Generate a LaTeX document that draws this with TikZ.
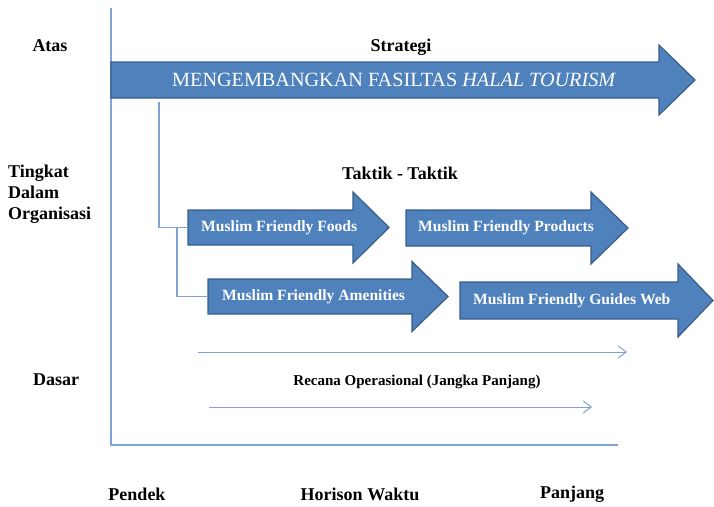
\documentclass[tikz,border=0pt]{standalone}
\usepackage{fontspec}
\setmainfont{Liberation Serif}
\usetikzlibrary{positioning,arrows.meta}
\definecolor{arrowfill}{RGB}{79,129,189}
\definecolor{arrowline}{RGB}{56,93,138}
\definecolor{axisline}{RGB}{128,163,214}

\begin{document}
\begin{tikzpicture}[x=1pt, y=-1pt,
    body/.style={inner sep=0pt, outer sep=0pt},
    fatarrow/.style={fill=arrowfill, draw=arrowline, line width=1.2pt, line join=miter},
    tactic/.style={text=white, inner sep=0pt, font=\bfseries\fontsize{15.6}{17}\selectfont},
    level/.style={inner sep=0pt, font=\bfseries\fontsize{18}{21}\selectfont},
    guide/.style={draw=axisline, line width=1.3pt},
    plan/.style={draw=axisline, line width=1pt, -{Straight Barb[length=8pt, width=12pt]}}
]
\useasboundingbox (0,0) rectangle (714,506);

% Axes
\coordinate (ytop) at (111,8);
\coordinate (origin) at (111,445);
\coordinate (xend) at (618,445);
\draw[guide] (ytop) -- (origin) -- (xend);

% Arrow bodies
\node[body, minimum width=548, minimum height=36] (strategy) at (385,80) {};
\node[body, minimum width=165, minimum height=35] (foods) at (270.5,227.5) {};
\node[body, minimum width=185, minimum height=36] (products) at (498.5,228) {};
\node[body, minimum width=204, minimum height=35] (amenities) at (310,296.5) {};
\node[body, minimum width=218, minimum height=37] (guides) at (569,300.5) {};

% Fat arrows
\draw[fatarrow] (strategy.north west) -- (strategy.north east) -- ++(0,-17) -- ++(36,35)
    -- ++(-36,35) -- (strategy.south east) -- (strategy.south west) -- cycle;
\draw[fatarrow] (foods.north west) -- (foods.north east) -- ++(0,-18) -- ++(36,35.5)
    -- ++(-36,35.5) -- (foods.south east) -- (foods.south west) -- cycle;
\draw[fatarrow] (products.north west) -- (products.north east) -- ++(0,-18) -- ++(37,36)
    -- ++(-37,36) -- (products.south east) -- (products.south west) -- cycle;
\draw[fatarrow] (amenities.north west) -- (amenities.north east) -- ++(0,-17.5) -- ++(36,35)
    -- ++(-36,35) -- (amenities.south east) -- (amenities.south west) -- cycle;
\draw[fatarrow] (guides.north west) -- (guides.north east) -- ++(0,-18) -- ++(35,36.5)
    -- ++(-35,36.5) -- (guides.south east) -- (guides.south west) -- cycle;

% Texts in the arrows
\node[text=white, inner sep=0pt, font=\fontsize{20.2}{23}\selectfont, right=61pt of strategy.west]
    (strategy-text) {MENGEMBANGKAN FASILTAS \textit{HALAL TOURISM}};
\node[tactic, right=13pt of foods.west] (foods-text) {Muslim Friendly Foods};
\node[tactic, right=12pt of products.west] (products-text) {Muslim Friendly Products};
\node[tactic, right=14pt of amenities.west] (amenities-text) {Muslim Friendly Amenities};
\node[tactic, right=13pt of guides.west] (guides-text) {Muslim Friendly Guides Web};

% Connectors
\draw[guide] ([xshift=48pt, yshift=-4pt]strategy.south west) |- (foods.west);
\draw[guide] ([xshift=-11pt]foods.west) |- (amenities.west);

% Operational plans
\coordinate (plan1-start) at (198,352);
\coordinate (plan1-end) at (627,352);
\coordinate (plan2-start) at (209,407);
\coordinate (plan2-end) at (592,407);
\draw[plan] (plan1-start) -- (plan1-end);
\draw[plan] (plan2-start) -- (plan2-end);
\node[inner sep=0pt, font=\bfseries\fontsize{15}{17}\selectfont] (recana) at (417,382)
    {Recana Operasional (Jangka Panjang)};

% Headings
\node[level] (strategi) at (401,47) {Strategi};
\node[level] (taktik) at (400,173) {Taktik - Taktik};

% Level labels
\node[level] (atas) at (50,46) {Atas};
\node[level, align=left, anchor=west] (tingkat) at (8,194) {Tingkat\\Dalam\\Organisasi};
\node[level] (dasar) at (56,380) {Dasar};

% Time horizon
\node[level] (pendek) at (137,494) {Pendek};
\node[level] (horison) at (360,494) {Horison Waktu};
\node[level] (panjang) at (572,494) {Panjang};
\end{tikzpicture}
\end{document}
